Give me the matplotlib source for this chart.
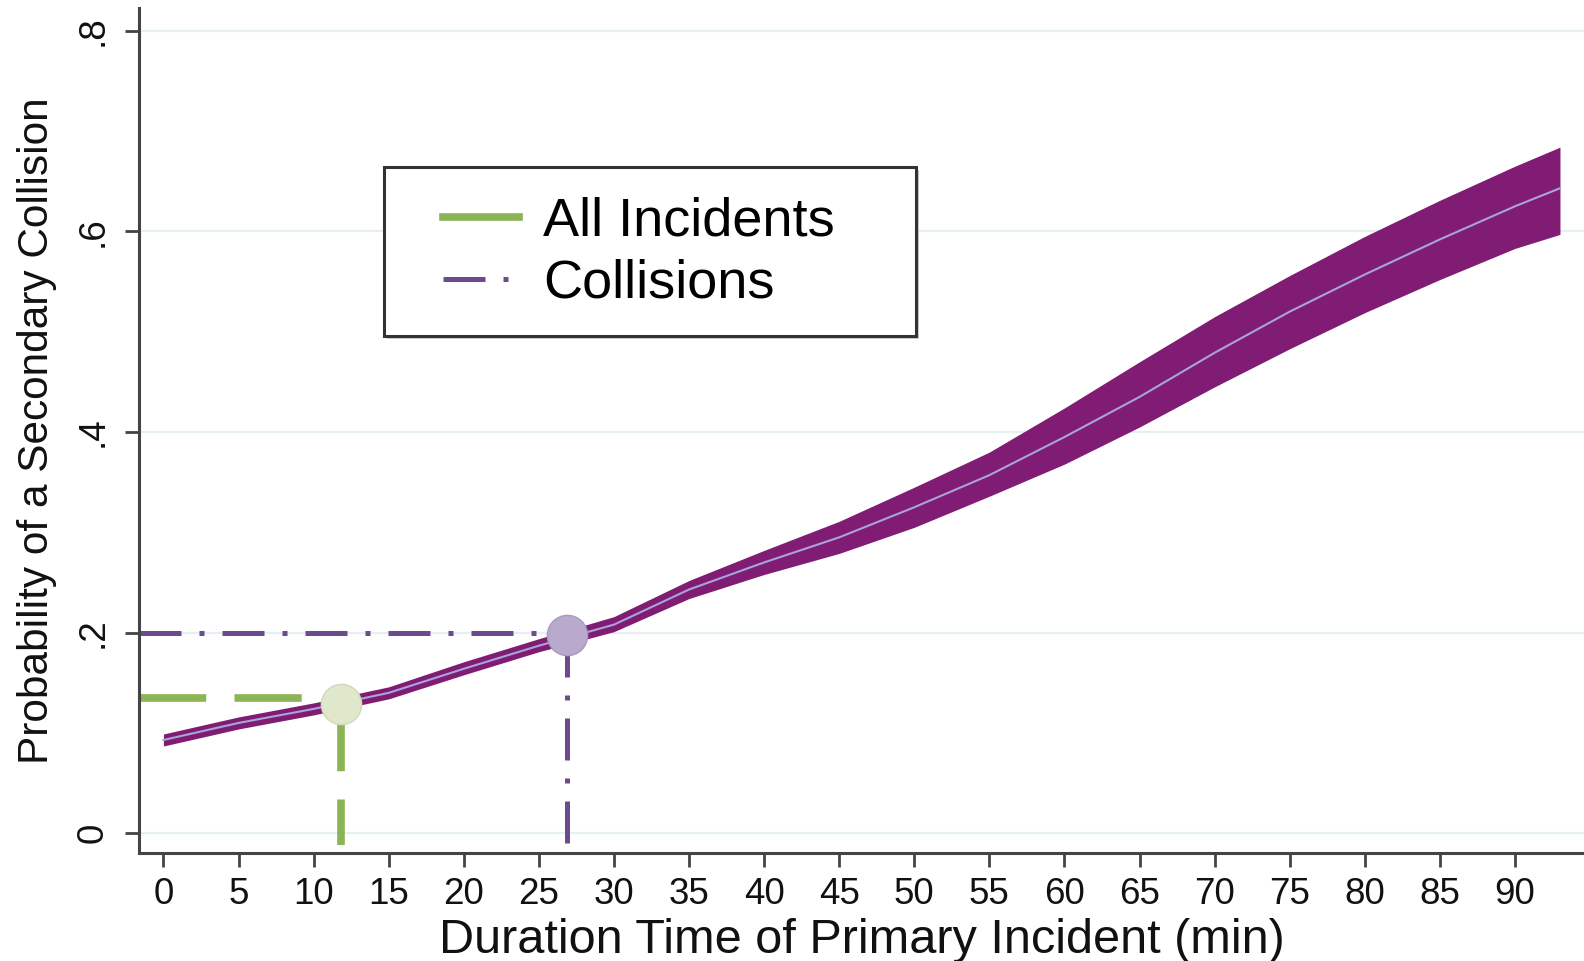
import matplotlib
matplotlib.use("Agg")
import matplotlib.pyplot as plt
from matplotlib.lines import Line2D
from matplotlib.patches import Rectangle

plt.rcParams['font.family'] = ['Liberation Sans', 'DejaVu Sans']

# predicted probability with confidence band
minutes = [0, 5, 10, 15, 20, 25, 30, 35, 40, 45, 50, 55, 60, 65, 70, 75, 80, 85, 90, 93]
prob = [0.093, 0.110, 0.124, 0.140, 0.164, 0.187, 0.208, 0.243, 0.270, 0.295, 0.325, 0.357,
        0.395, 0.435, 0.479, 0.520, 0.557, 0.592, 0.625, 0.643]
upper = [0.099, 0.116, 0.130, 0.146, 0.171, 0.194, 0.216, 0.252, 0.282, 0.311, 0.345, 0.380,
         0.424, 0.470, 0.515, 0.556, 0.595, 0.631, 0.665, 0.684]
lower = [0.087, 0.104, 0.118, 0.134, 0.158, 0.181, 0.201, 0.234, 0.258, 0.279, 0.305, 0.336,
         0.368, 0.405, 0.445, 0.483, 0.519, 0.552, 0.583, 0.597]

# reference points (mean duration)
all_inc = (11.8, 0.135)
collis = (26.9, 0.200)

xticks = list(range(0, 95, 5))
yticks = [0, 0.2, 0.4, 0.6, 0.8]
ytick_labels = ["0", ".2", ".4", ".6", ".8"]

green = "#8cb356"
purple = "#6a4b8c"
band = "#801c74"

W, H = 1584, 961
fig = plt.figure(figsize=(W / 100, H / 100), dpi=100)
ax = fig.add_axes([0.088, 0.112, 0.912, 0.880])

ax.set_xlim(-1.6, 94.6)
ax.set_ylim(-0.020, 0.823)

for yv in yticks:
    ax.axhline(yv, color="#e6eff2", lw=1.6, zorder=0)

ax.fill_between(minutes, lower, upper, color=band, lw=0, zorder=2)
ax.plot(minutes, prob, color="#a9a3d9", lw=1.5, zorder=3)

# reference lines
ax.plot([-1.6, all_inc[0]], [all_inc[1], all_inc[1]], color=green, lw=5.5,
        dashes=(8.8, 3.7), dash_capstyle="butt", zorder=1)
ax.plot([all_inc[0], all_inc[0]], [all_inc[1] - 0.006, -0.012], color=green, lw=5.5,
        dashes=(8.8, 3.7), dash_capstyle="butt", zorder=1)
ax.plot([-1.6, collis[0]], [collis[1], collis[1]], color=purple, lw=3.6,
        dashes=(8.4, 3.6, 1, 3.6), dash_capstyle="butt", zorder=1)
ax.plot([collis[0], collis[0]], [collis[1] - 0.002, -0.012], color=purple, lw=3.6,
        dashes=(8.4, 3.6, 1, 3.6), dash_capstyle="butt", zorder=1)

ax.plot(all_inc[0], 0.129, "o", ms=29, mfc="#dfe8cb", mec="#cfd9b8", mew=1, zorder=4)
ax.plot(collis[0], 0.198, "o", ms=29, mfc="#b9a9cd", mec="#a999bf", mew=1, zorder=4)

for s in ["top", "right"]:
    ax.spines[s].set_visible(False)
for s in ["left", "bottom"]:
    ax.spines[s].set_color("#444444")
    ax.spines[s].set_linewidth(2.2)

ax.set_xticks(xticks)
ax.set_xticklabels([str(t) for t in xticks])
ax.set_yticks(yticks)
ax.set_yticklabels(ytick_labels, rotation=90, va="center")
ax.tick_params(axis="both", colors="#444444", labelcolor="#111111", length=10, width=2,
               labelsize=26.5)
ax.tick_params(axis="y", pad=11)
ax.tick_params(axis="x", pad=7)

ax.set_xlabel("Duration Time of Primary Incident (min)", fontsize=35, color="#111111", labelpad=4)
ax.set_ylabel("Probability of a Secondary Collision", fontsize=30.5, color="#111111", labelpad=13)

# legend box (frame drawn separately to match the wide padding)
box_x0, box_y0, box_x1, box_y1 = 384, 167, 916, 336
ax.add_patch(Rectangle((box_x0 / W + 0.002, 1 - box_y1 / H - 0.003),
                       (box_x1 - box_x0) / W, (box_y1 - box_y0) / H,
                       transform=fig.transFigure, facecolor="#cccccc", edgecolor="none",
                       zorder=5, clip_on=False))
ax.add_patch(Rectangle((box_x0 / W, 1 - box_y1 / H), (box_x1 - box_x0) / W,
                       (box_y1 - box_y0) / H, transform=fig.transFigure,
                       facecolor="white", edgecolor="#333333", lw=2.2, zorder=6, clip_on=False))

handles = [Line2D([], [], color=green, lw=5.5),
           Line2D([], [], color=purple, lw=3.6, dashes=(8.4, 3.6, 1, 3.6))]
leg = ax.legend(handles, ["All Incidents", "Collisions"], loc="upper left",
                bbox_to_anchor=(443 / W, 1 - 197 / H), bbox_transform=fig.transFigure,
                fontsize=39, frameon=False, borderaxespad=0, borderpad=0,
                handlelength=1.4, handletextpad=0.45, labelspacing=0.22)
leg.set_zorder(7)

fig.savefig("out.png", dpi=100)
